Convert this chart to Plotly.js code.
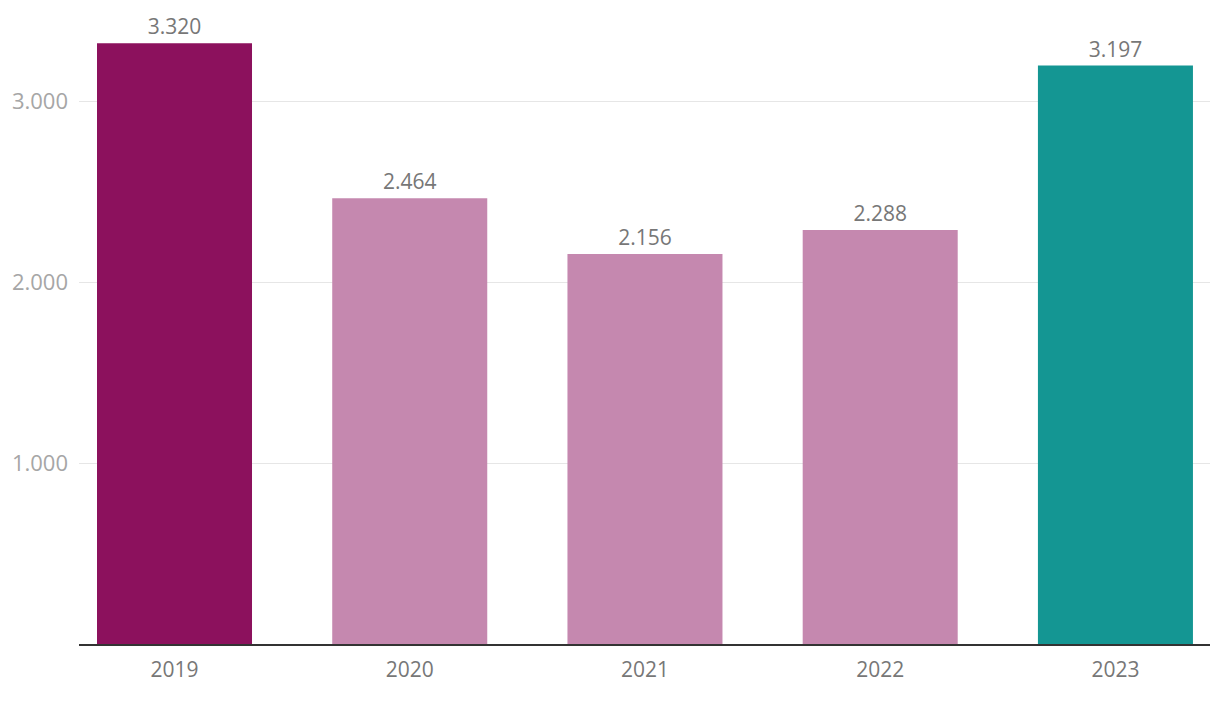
<!DOCTYPE html>
<html>
<head>
<meta charset="utf-8">
<script src="https://cdn.plot.ly/plotly-3.0.1.min.js"></script>
<style>html,body{margin:0;padding:0;background:#fff;}#chart{width:1220px;height:706px;}</style>
</head>
<body>
<div id="chart"></div>
<script>
const years = ['2019', '2020', '2021', '2022', '2023'];
const values = [3320, 2464, 2156, 2288, 3197];
const barColors = ['#8C115D', '#C588AF', '#C588AF', '#C588AF', '#149693'];
const yTickVals = [1000, 2000, 3000];

const trace = {
  type: 'bar',
  x: years,
  y: values,
  marker: {color: barColors},
  width: 0.659,
  texttemplate: '%{y:,d}',
  textposition: 'outside',
  cliponaxis: false,
  textfont: {family: 'Open Sans, Noto Sans, sans-serif', size: 21, color: '#777777'},
  hoverinfo: 'skip'
};

const layout = {
  width: 1220,
  height: 706,
  margin: {l: 79, r: 10, t: 20, b: 62},
  paper_bgcolor: '#ffffff',
  plot_bgcolor: '#ffffff',
  separators: ',.',
  showlegend: false,
  font: {family: 'Open Sans, Noto Sans, sans-serif', size: 21, color: '#777777'},
  xaxis: {
    type: 'category',
    range: [-0.406, 4.402],
    showline: true,
    linecolor: '#333333',
    linewidth: 2,
    showgrid: false,
    ticks: '',
    ticklabelstandoff: 6,
    tickfont: {size: 21, color: '#777777'},
    fixedrange: true
  },
  yaxis: {
    range: [0, 3449],
    tickvals: yTickVals,
    tickformat: ',d',
    showgrid: true,
    gridcolor: '#e6e6e6',
    gridwidth: 1,
    zeroline: false,
    showline: false,
    ticks: '',
    ticklabelstandoff: 10,
    tickfont: {size: 22, color: '#a6a6a6'},
    fixedrange: true
  },
  bargap: 0.34
};

Plotly.newPlot('chart', [trace], layout, {displayModeBar: false, staticPlot: true});
</script>
</body>
</html>
